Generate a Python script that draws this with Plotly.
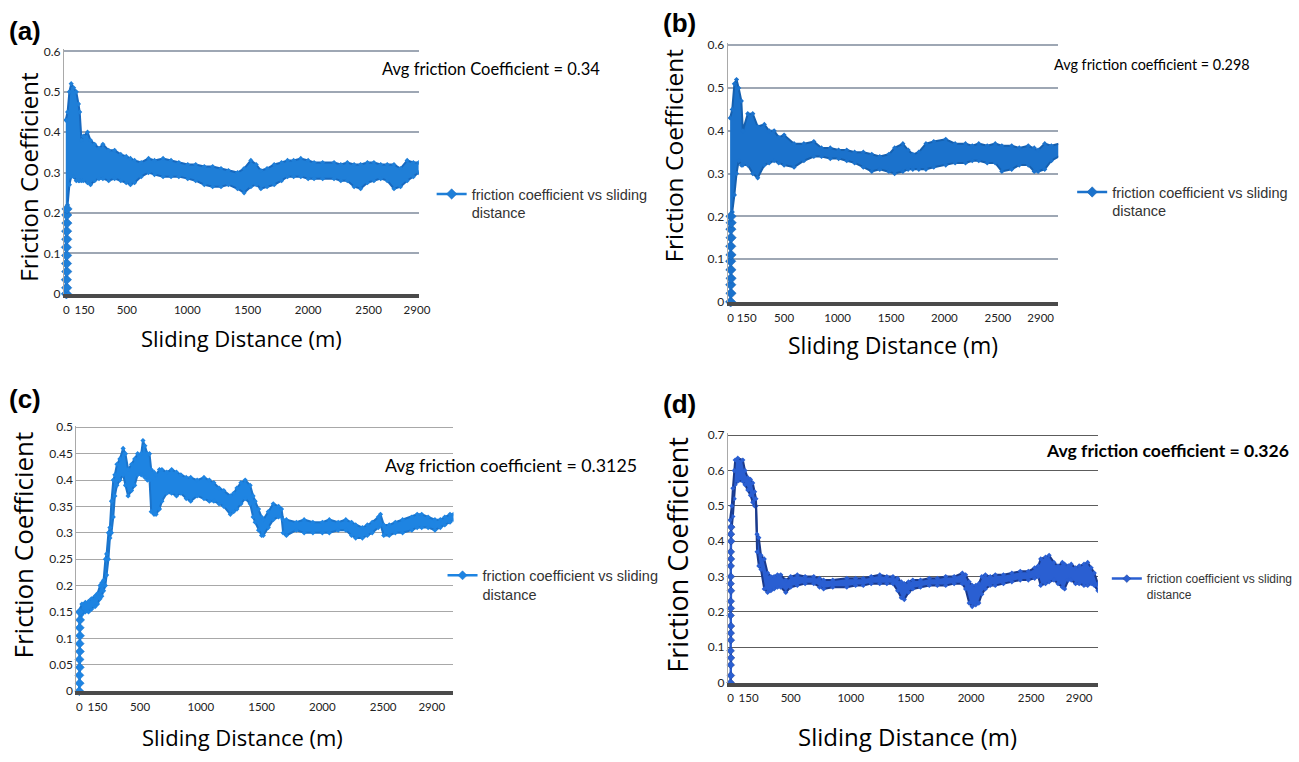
import plotly.graph_objects as go

W, H = 1299, 762

# ---------------- data ----------------
x_ticks = [0, 150, 500, 1000, 1500, 2000, 2500, 2900]
legend_name = "friction coefficient vs sliding<br>distance"

# panel (a)
a_rise_x = [0, 2, 0, 3, 1, 2, 0, 3, 2, 4, 3, 5]
a_rise_y = [0, 0.015, 0.035, 0.055, 0.075, 0.095, 0.115, 0.135, 0.155, 0.175, 0.195, 0.21]
a_x = [-5, 10, 25, 40, 60, 82, 100, 110, 125, 140, 175, 200, 234, 270, 302, 350, 399, 450, 495, 530, 564,
       619, 680, 729, 800, 866, 930, 1004, 1070, 1141, 1210, 1279, 1340, 1416, 1470, 1526, 1570, 1609,
       1660, 1719, 1780, 1829, 1880, 1939, 2000, 2049, 2120, 2214, 2270, 2324, 2380, 2434, 2490, 2544,
       2600, 2654, 2710, 2764, 2819, 2870, 2915]
a_up = [0.43, 0.45, 0.50, 0.52, 0.51, 0.50, 0.47, 0.45, 0.38, 0.39, 0.40, 0.38, 0.37, 0.36, 0.37, 0.355,
        0.355, 0.345, 0.34, 0.335, 0.33, 0.325, 0.335, 0.33, 0.335, 0.33, 0.325, 0.32, 0.32, 0.315, 0.315,
        0.31, 0.305, 0.30, 0.31, 0.33, 0.32, 0.305, 0.31, 0.32, 0.325, 0.33, 0.33, 0.335, 0.33, 0.325,
        0.325, 0.325, 0.32, 0.325, 0.32, 0.32, 0.325, 0.325, 0.32, 0.32, 0.32, 0.31, 0.33, 0.325, 0.325]
a_lo = [0.20, 0.22, 0.27, 0.29, 0.29, 0.28, 0.28, 0.28, 0.28, 0.28, 0.275, 0.27, 0.28, 0.285, 0.285, 0.28,
        0.285, 0.28, 0.275, 0.27, 0.275, 0.29, 0.30, 0.295, 0.29, 0.29, 0.29, 0.285, 0.28, 0.27, 0.265,
        0.265, 0.27, 0.26, 0.25, 0.265, 0.27, 0.26, 0.265, 0.27, 0.28, 0.29, 0.29, 0.29, 0.285, 0.285,
        0.285, 0.285, 0.28, 0.28, 0.265, 0.26, 0.275, 0.28, 0.285, 0.28, 0.26, 0.265, 0.28, 0.29, 0.30]

# panel (b)
b_rise_x = [0, 3, 1, 4, 2, 0, 3, 1, 4, 2, 5, 3]
b_rise_y = [0, 0.02, 0.04, 0.055, 0.075, 0.095, 0.11, 0.13, 0.15, 0.17, 0.185, 0.20]
b_x = [-5, 15, 35, 55, 75, 100, 114, 160, 207, 253, 315, 360, 407, 450, 500, 593, 685, 778, 850, 932,
       1010, 1086, 1160, 1241, 1320, 1395, 1480, 1534, 1611, 1660, 1704, 1760, 1827, 1900, 2012, 2100,
       2197, 2260, 2321, 2400, 2475, 2537, 2629, 2700, 2784, 2840, 2876, 2938, 3000, 3070]
b_up = [0.43, 0.45, 0.51, 0.52, 0.50, 0.47, 0.40, 0.44, 0.44, 0.41, 0.415, 0.40, 0.40, 0.385, 0.39, 0.37,
        0.37, 0.375, 0.36, 0.36, 0.355, 0.355, 0.35, 0.35, 0.345, 0.34, 0.345, 0.36, 0.37, 0.355, 0.345,
        0.35, 0.37, 0.375, 0.38, 0.37, 0.37, 0.365, 0.37, 0.365, 0.37, 0.365, 0.365, 0.36, 0.365, 0.36,
        0.355, 0.37, 0.365, 0.37]
b_lo = [0.20, 0.21, 0.25, 0.30, 0.33, 0.32, 0.32, 0.32, 0.30, 0.29, 0.32, 0.325, 0.33, 0.325, 0.32, 0.315,
        0.33, 0.34, 0.34, 0.335, 0.335, 0.33, 0.325, 0.315, 0.305, 0.31, 0.305, 0.30, 0.305, 0.31, 0.31,
        0.31, 0.31, 0.315, 0.32, 0.325, 0.325, 0.33, 0.33, 0.325, 0.325, 0.305, 0.31, 0.32, 0.32, 0.305,
        0.305, 0.31, 0.33, 0.34]

# panel (c)
c_rise_x = [0, 3, 1, 4, 2, 5, 3, 6, 4, 7, 5]
c_rise_y = [0, 0.015, 0.03, 0.045, 0.06, 0.075, 0.09, 0.105, 0.12, 0.135, 0.15]
c_x = [-5, 22, 50, 76, 100, 130, 150, 171, 185, 200, 215, 225, 240, 252, 265, 280, 293, 310, 334, 361,
       380, 402, 430, 456, 480, 510, 524, 540, 560, 578, 592, 615, 632, 660, 680, 720, 760, 800, 836,
       880, 917, 970, 1026, 1070, 1107, 1150, 1189, 1243, 1270, 1297, 1330, 1365, 1406, 1430, 1447,
       1475, 1500, 1514, 1555, 1596, 1640, 1664, 1677, 1704, 1786, 1850, 1922, 2000, 2057, 2130, 2193,
       2240, 2274, 2329, 2370, 2410, 2460, 2478, 2505, 2550, 2600, 2660, 2736, 2780, 2817, 2870, 2926,
       2970, 3007, 3050, 3078]
c_up = [0.15, 0.165, 0.168, 0.17, 0.175, 0.18, 0.185, 0.20, 0.205, 0.21, 0.25, 0.26, 0.30, 0.31, 0.36,
        0.40, 0.41, 0.43, 0.44, 0.46, 0.45, 0.42, 0.43, 0.44, 0.45, 0.45, 0.475, 0.465, 0.45, 0.45, 0.42,
        0.415, 0.41, 0.42, 0.42, 0.415, 0.42, 0.415, 0.41, 0.405, 0.405, 0.40, 0.405, 0.40, 0.395, 0.385,
        0.38, 0.37, 0.375, 0.385, 0.395, 0.40, 0.39, 0.37, 0.36, 0.345, 0.33, 0.325, 0.34, 0.355, 0.35,
        0.345, 0.325, 0.325, 0.32, 0.325, 0.32, 0.32, 0.325, 0.32, 0.325, 0.32, 0.315, 0.31, 0.315, 0.32,
        0.33, 0.335, 0.315, 0.315, 0.32, 0.325, 0.33, 0.335, 0.335, 0.33, 0.325, 0.325, 0.33, 0.335, 0.335]
c_lo = [0.12, 0.145, 0.15, 0.15, 0.155, 0.16, 0.165, 0.175, 0.18, 0.19, 0.20, 0.22, 0.25, 0.29, 0.30,
        0.33, 0.37, 0.39, 0.40, 0.41, 0.39, 0.37, 0.38, 0.39, 0.41, 0.41, 0.41, 0.405, 0.40, 0.40, 0.34,
        0.335, 0.335, 0.345, 0.36, 0.375, 0.375, 0.37, 0.375, 0.365, 0.36, 0.37, 0.365, 0.36, 0.36, 0.355,
        0.35, 0.335, 0.34, 0.345, 0.355, 0.365, 0.355, 0.33, 0.32, 0.305, 0.295, 0.295, 0.31, 0.325, 0.33,
        0.33, 0.30, 0.295, 0.305, 0.30, 0.30, 0.30, 0.30, 0.305, 0.305, 0.295, 0.29, 0.29, 0.295, 0.30,
        0.31, 0.315, 0.295, 0.295, 0.30, 0.30, 0.305, 0.31, 0.31, 0.31, 0.305, 0.31, 0.315, 0.32, 0.325]

# panel (d)
d_rise_x = [0, 2, 1, 3, 0, 2, 1, 3, 0, 2, 1, 3, 0, 2, 1, 3, 2, 4, 3, 5]
d_rise_y = [0, 0.02, 0.05, 0.07, 0.09, 0.12, 0.14, 0.16, 0.19, 0.21, 0.23, 0.26, 0.28, 0.30, 0.33,
            0.35, 0.37, 0.40, 0.42, 0.44]
d_x = [-5, 10, 19, 30, 38, 60, 102, 120, 143, 165, 184, 200, 211, 220, 235, 253, 280, 308, 335, 362, 390,
       417, 459, 500, 555, 620, 692, 740, 774, 850, 967, 1040, 1104, 1170, 1241, 1300, 1351, 1390, 1420,
       1445, 1480, 1516, 1580, 1653, 1720, 1790, 1860, 1928, 1955, 1985, 2010, 2040, 2065, 2090, 2120,
       2160, 2202, 2270, 2340, 2410, 2477, 2530, 2559, 2580, 2620, 2650, 2690, 2724, 2760, 2779, 2810,
       2834, 2870, 2900, 2940, 2971, 3000, 3026, 3056]
d_up = [0.46, 0.50, 0.55, 0.60, 0.63, 0.635, 0.63, 0.60, 0.58, 0.575, 0.565, 0.54, 0.52, 0.42, 0.41, 0.36,
        0.35, 0.31, 0.30, 0.30, 0.305, 0.305, 0.29, 0.30, 0.305, 0.30, 0.30, 0.295, 0.29, 0.29, 0.295,
        0.295, 0.295, 0.30, 0.305, 0.30, 0.30, 0.295, 0.285, 0.28, 0.285, 0.29, 0.29, 0.295, 0.295, 0.30,
        0.30, 0.31, 0.305, 0.285, 0.275, 0.275, 0.28, 0.30, 0.305, 0.30, 0.305, 0.305, 0.31, 0.315, 0.315,
        0.325, 0.33, 0.35, 0.355, 0.36, 0.34, 0.33, 0.34, 0.335, 0.33, 0.335, 0.325, 0.33, 0.335, 0.34,
        0.325, 0.31, 0.28]
d_lo = [0.42, 0.44, 0.47, 0.52, 0.56, 0.57, 0.57, 0.56, 0.545, 0.53, 0.51, 0.50, 0.50, 0.37, 0.33, 0.32,
        0.265, 0.255, 0.26, 0.265, 0.27, 0.27, 0.255, 0.27, 0.275, 0.28, 0.28, 0.27, 0.265, 0.27, 0.27,
        0.275, 0.275, 0.28, 0.28, 0.28, 0.28, 0.26, 0.24, 0.235, 0.255, 0.265, 0.27, 0.275, 0.275, 0.275,
        0.28, 0.28, 0.265, 0.225, 0.215, 0.22, 0.225, 0.25, 0.265, 0.275, 0.275, 0.28, 0.285, 0.29, 0.29,
        0.295, 0.30, 0.275, 0.28, 0.285, 0.29, 0.28, 0.27, 0.265, 0.29, 0.29, 0.28, 0.28, 0.275, 0.275,
        0.28, 0.275, 0.26]

avg_texts = ["Avg friction Coefficient = 0.34", "Avg friction coefficient = 0.298",
             "Avg friction coefficient = 0.3125", "<b>Avg friction coefficient = 0.326</b>"]
panel_labels = ["(a)", "(b)", "(c)", "(d)"]

# ---------------- styling / layout ----------------
def PX(x):
    return x / W

def PY(y):
    return 1 - y / H

panels = [
    dict(rx=a_rise_x, ry=a_rise_y, x=a_x, up=a_up, lo=a_lo,
         xdom=(63.6, 422), ydom=(292.8, 44.1), xr=[-20, 2915], yr=[0, 0.605], dt=0.1,
         fill="#1f7fd8", edge="#1769c0", grid="#9ea7b4", gw=1.6, ms=8, leg=(435, 175), lfs=14.5),
    dict(rx=b_rise_x, ry=b_rise_y, x=b_x, up=b_up, lo=b_lo,
         xdom=(734, 1068), ydom=(301, 37.8), xr=[-28, 3065], yr=[0, 0.605], dt=0.1,
         fill="#1b72cc", edge="#1560b0", grid="#9ea7b4", gw=1.6, ms=8, leg=(1082, 173), lfs=14.5),
    dict(rx=c_rise_x, ry=c_rise_y, x=c_x, up=c_up, lo=c_lo,
         xdom=(76.1, 457), ydom=(697, 427), xr=[-24, 3078], yr=[0, 0.503], dt=0.05,
         fill="#1e84e2", edge="#1a74cc", grid="#a8a8a8", gw=1.1, ms=7, leg=(446, 563), lfs=14.5),
    dict(rx=d_rise_x, ry=d_rise_y, x=d_x, up=d_up, lo=d_lo,
         xdom=(734.3, 1108), ydom=(688.3, 434.9), xr=[-22, 3056], yr=[0, 0.705], dt=0.1,
         fill="#2a5fd2", edge="#1a3a8c", grid="#5c5c5c", gw=1.0, ms=6, leg=(1117, 568), lfs=12),
]

fig = go.Figure()
layout = dict(width=W, height=H, margin=dict(l=0, r=0, t=0, b=0),
              paper_bgcolor="white", plot_bgcolor="white", showlegend=True)
annotations = []

label_pos = [(6, 25, 26), (667, 17, 26), (6, 400, 26), (667, 405, 26)]
avg_pos = [(383, 64, 16.5), (1062, 60, 14.4), (386, 467, 17.8), (1054, 452, 17.6)]
ytitle_pos = [(27, 174, 24), (679, 152, 24.5), (22, 548, 26), (683, 559, 27)]
xtitle_pos = [(243, 338, 22), (901, 345, 23), (244, 744, 22), (916, 743, 24)]

for i, p in enumerate(panels):
    n = "" if i == 0 else str(i + 1)
    xa, ya = "x" + n, "y" + n
    lg = "legend" + n
    fig.add_trace(go.Scatter(x=p["x"], y=p["lo"], xaxis=xa, yaxis=ya, mode="lines+markers",
                             line=dict(color=p["edge"], width=2),
                             marker=dict(symbol="diamond", size=4, color=p["fill"]),
                             showlegend=False, hoverinfo="skip"))
    fig.add_trace(go.Scatter(x=p["x"], y=p["up"], xaxis=xa, yaxis=ya, mode="lines+markers",
                             fill="tonexty", fillcolor=p["fill"],
                             line=dict(color=p["edge"], width=2),
                             marker=dict(symbol="diamond", size=4, color=p["fill"]),
                             showlegend=False, hoverinfo="skip"))
    fig.add_trace(go.Scatter(x=p["rx"], y=p["ry"], xaxis=xa, yaxis=ya, mode="lines+markers",
                             name=legend_name, legend=lg,
                             line=dict(color=p["fill"], width=2.5),
                             marker=dict(symbol="diamond", size=p["ms"], color=p["fill"],
                                         line=dict(color=p["edge"], width=0.5)),
                             cliponaxis=False))
    ntick = round((p["yr"][1]) / p["dt"])
    yt = [round(k * p["dt"], 2) for k in range(ntick + 1)]
    layout["xaxis" + n] = dict(domain=[PX(p["xdom"][0]), PX(p["xdom"][1])], range=p["xr"],
                               anchor=ya, tickvals=x_ticks, ticktext=[str(t) for t in x_ticks],
                               showgrid=False, zeroline=False, showline=True,
                               linecolor="#4a4a4a", linewidth=4, ticks="",
                               ticklabelstandoff=2,
                               tickfont=dict(family="Lato", size=11.5, color="#222"))
    layout["yaxis" + n] = dict(domain=[PY(p["ydom"][0]), PY(p["ydom"][1])], range=p["yr"],
                               anchor=xa, tickvals=yt, ticktext=[("%g" % v) for v in yt],
                               showgrid=True, gridcolor=p["grid"], gridwidth=p["gw"],
                               zeroline=False, showline=True, linecolor="#a9a9a9", linewidth=1,
                               ticks="", tickfont=dict(family="Lato", size=12, color="#222"))
    layout[lg] = dict(x=PX(p["leg"][0]), y=PY(p["leg"][1]), xanchor="left", yanchor="top",
                      bgcolor="rgba(0,0,0,0)", valign="top",
                      font=dict(family="Liberation Sans", size=p["lfs"], color="#333"))
    lx, ly, lfs = label_pos[i]
    annotations.append(dict(text="<b>" + panel_labels[i] + "</b>", x=PX(lx), y=PY(ly),
                            xref="paper", yref="paper", xanchor="left", yanchor="middle",
                            showarrow=False,
                            font=dict(family="Liberation Sans", size=lfs, color="black")))
    ax_, ay_, afs = avg_pos[i]
    annotations.append(dict(text=avg_texts[i], x=PX(ax_), y=PY(ay_), xref="paper", yref="paper",
                            xanchor="left", yanchor="middle", showarrow=False,
                            font=dict(family="Lato", size=afs, color="black")))
    tx, ty, tfs = ytitle_pos[i]
    annotations.append(dict(text="Friction Coefficient", x=PX(tx), y=PY(ty), xref="paper",
                            yref="paper", xanchor="center", yanchor="middle", textangle=-90,
                            showarrow=False,
                            font=dict(family="Open Sans", size=tfs, color="black")))
    sx, sy, sfs = xtitle_pos[i]
    annotations.append(dict(text="Sliding Distance (m)", x=PX(sx), y=PY(sy), xref="paper",
                            yref="paper", xanchor="center", yanchor="middle", showarrow=False,
                            font=dict(family="Open Sans", size=sfs, color="black")))

layout["annotations"] = annotations
fig.update_layout(**layout)
fig.write_html("out.html", config={"displayModeBar": False},
               post_script="document.body.style.margin='0';document.body.style.padding='0';")
